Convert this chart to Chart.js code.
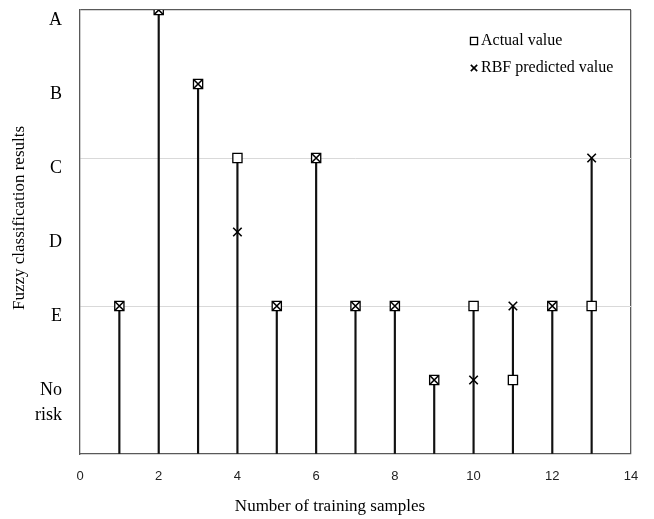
<!DOCTYPE html>
<html>
<head>
<meta charset="utf-8">
<script src="https://cdn.jsdelivr.net/npm/chart.js@4.4.1/dist/chart.umd.min.js"></script>
<style>
    html, body { margin: 0; padding: 0; background: #fff; }
    #wrap { width: 654px; height: 519px; }
</style>
</head>
<body>
<div id="wrap"><canvas id="stemChart"></canvas></div>
<script>
const samples = [1, 2, 3, 4, 5, 6, 7, 8, 9, 10, 11, 12, 13];
// 1 = No risk, 2 = E, 3 = D, 4 = C, 5 = B, 6 = A
const actualValues = [2, 6, 5, 4, 2, 4, 2, 2, 1, 2, 1, 2, 2];
const predictedValues = [2, 6, 5, 3, 2, 4, 2, 2, 1, 1, 2, 2, 4];
const riskLabels = { 1: ['', 'No', 'risk'], 2: 'E', 3: 'D', 4: 'C', 5: 'B', 6: 'A' };
const xTitle = 'Number of training samples';
const yTitle = 'Fuzzy classification results';
const legendLabels = ['Actual value', 'RBF predicted value'];

const frameColor = '#595959';
const gridColor = '#d9d9d9';

const stemData = samples.map((s, i) => ({ x: s, y: Math.max(actualValues[i], predictedValues[i]) }));
const actualData = samples.map((s, i) => ({ x: s, y: actualValues[i] }));
const predictedData = samples.map((s, i) => ({ x: s, y: predictedValues[i] }));

const titlesAndLegend = {
    id: 'titlesAndLegend',
    afterDraw(chart) {
        const { ctx } = chart;
        ctx.save();
        ctx.fillStyle = '#000';
        ctx.textBaseline = 'middle';

        // axis titles
        ctx.font = '17px "Liberation Serif"';
        ctx.textAlign = 'center';
        ctx.fillText(xTitle, 330, 507);
        ctx.save();
        ctx.translate(20, 218);
        ctx.rotate(-Math.PI / 2);
        ctx.fillText(yTitle, 0, 0);
        ctx.restore();

        // legend inside the plot
        ctx.font = '16px "Liberation Serif"';
        ctx.textAlign = 'left';
        const rows = [41, 68];
        [1, 2].forEach((dsIndex, k) => {
            const ds = chart.data.datasets[dsIndex];
            ctx.fillStyle = '#fff';
            ctx.strokeStyle = '#000';
            ctx.lineWidth = ds.borderWidth;
            Chart.helpers.drawPoint(ctx, {
                pointStyle: ds.pointStyle,
                radius: ds.pointRadius - 1.5,
                borderWidth: ds.borderWidth
            }, 474, rows[k]);
            ctx.fillStyle = '#000';
            ctx.fillText(legendLabels[k], 481, rows[k]);
        });
        ctx.restore();
    }
};

function initChart() {
    const ctx = document.getElementById('stemChart');
    new Chart(ctx, {
        type: 'scatter',
        data: {
            datasets: [
                {
                    type: 'bar',
                    label: 'stems',
                    data: stemData,
                    backgroundColor: '#111',
                    barThickness: 1.5,
                    order: 3
                },
                {
                    label: legendLabels[0],
                    data: actualData,
                    pointStyle: 'rect',
                    pointRadius: 6.5,
                    backgroundColor: '#fff',
                    borderColor: '#000',
                    borderWidth: 1.3,
                    order: 2
                },
                {
                    label: legendLabels[1],
                    data: predictedData,
                    pointStyle: 'crossRot',
                    pointRadius: 6,
                    borderColor: '#000',
                    borderWidth: 1.6,
                    order: 1
                }
            ]
        },
        options: {
            responsive: true,
            maintainAspectRatio: false,
            animation: false,
            layout: {
                padding: { top: 10, right: 23, left: 0, bottom: 0 }
            },
            plugins: {
                legend: { display: false },
                tooltip: { enabled: false }
            },
            scales: {
                x: {
                    type: 'linear',
                    min: 0,
                    max: 14,
                    offset: false,
                    afterFit: (scale) => {
                        scale.height = 65;
                        scale.paddingLeft = 0;
                        scale.paddingRight = 0;
                    },
                    grid: {
                        offset: false,
                        drawTicks: false,
                        color: (c) => (c.tick && c.tick.value === 14 ? frameColor : 'transparent'),
                        lineWidth: 1.3
                    },
                    border: { color: frameColor, width: 1.3 },
                    ticks: {
                        stepSize: 2,
                        padding: 15,
                        color: '#222',
                        font: { family: '"Liberation Sans"', size: 13 }
                    }
                },
                y: {
                    min: 0,
                    max: 6,
                    afterFit: (scale) => {
                        scale.width = 80;
                        scale.paddingTop = 0;
                        scale.paddingBottom = 0;
                    },
                    grid: {
                        drawTicks: false,
                        color: (c) => {
                            const v = c.tick ? c.tick.value : 0;
                            if (v === 6) return frameColor;
                            if (v === 2 || v === 4) return gridColor;
                            return 'transparent';
                        },
                        lineWidth: (c) => (c.tick && c.tick.value === 6 ? 1.3 : 1)
                    },
                    border: { color: frameColor, width: 1.3 },
                    ticks: {
                        stepSize: 1,
                        autoSkip: false,
                        padding: 18,
                        labelOffset: 10,
                        color: '#000',
                        font: { family: '"Liberation Serif"', size: 18, lineHeight: 1.4 },
                        callback: (v) => riskLabels[v] || ''
                    }
                }
            }
        },
        plugins: [titlesAndLegend]
    });
}

window.addEventListener('load', initChart);
</script>
</body>
</html>
